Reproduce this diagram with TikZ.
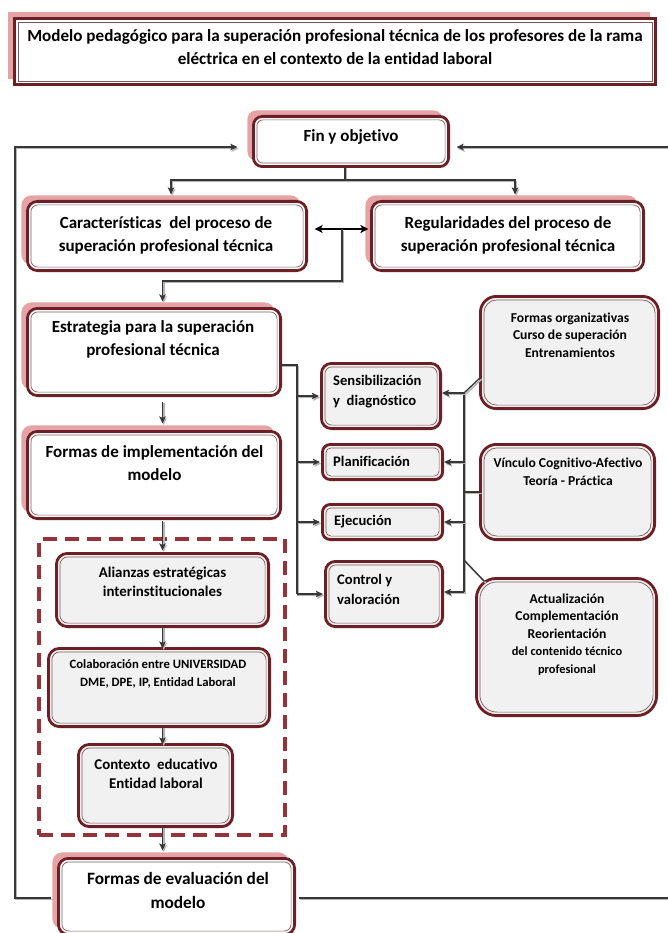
\documentclass[tikz,border=0pt]{standalone}
\usepackage{fontspec}
\setmainfont{Carlito}[Ligatures=CommonOff]
\usetikzlibrary{shadows,arrows.meta,calc}
\definecolor{dkred}{RGB}{108,32,38}
\definecolor{inred}{RGB}{125,88,90}
\definecolor{shpink}{RGB}{226,148,150}
\definecolor{gfill}{RGB}{241,241,241}
\definecolor{lncol}{RGB}{55,55,55}
\definecolor{lnshadow}{RGB}{180,180,180}
\definecolor{dashred}{RGB}{150,50,56}
\tikzset{
  x=1pt, y=-1pt,
  sz/.style 2 args={minimum width=#1pt-2.8pt, minimum height=#2pt-2.8pt},
  box/.style={draw=dkred, line width=2.8pt, inner sep=0pt, outer sep=0pt, rounded corners=#1},
  box/.default=10pt,
  wbox/.style={box=#1, fill=white, drop shadow={shadow xshift=-6pt, shadow yshift=6pt, fill=shpink, opacity=0.85}},
  wbox/.default=10pt,
  gbox/.style={box=#1, fill=gfill, drop shadow={shadow xshift=1.2pt, shadow yshift=-1.2pt, fill=black, opacity=0.25}},
  gbox/.default=10pt,
  inline/.style={draw=inred, line width=0.7pt},
  dashbox/.style={draw=dashred, line width=3.6pt, dash pattern=on 14pt off 8pt, inner sep=0pt},
  txt/.style={inner sep=0pt, align=center, text=black},
  tT/.style={txt, font=\fontsize{17.1}{23}\selectfont\bfseries},
  tB/.style={txt, font=\fontsize{17}{23}\selectfont\bfseries},
  tE/.style={txt, font=\fontsize{17.3}{24}\selectfont\bfseries},
  tM/.style={txt, align=left, anchor=west, font=\fontsize{14.6}{20}\selectfont\bfseries},
  tL/.style={txt, font=\fontsize{14.9}{19}\selectfont\bfseries},
  tC/.style={txt, font=\fontsize{12.7}{18}\selectfont\bfseries},
  tR/.style={txt, font=\fontsize{13.6}{17.5}\selectfont\bfseries},
  conn/.style={draw=lncol, line width=1.3pt, preaction={draw=lnshadow, line width=1.6pt, transform canvas={shift={(1.2pt,-1.6pt)}}}},
  arr/.style={conn, -{Stealth[length=7pt,width=6.5pt,inset=1.5pt]}},
  dbl/.style={draw=black, line width=2pt, {Stealth[length=8pt,width=8pt,inset=2pt]}-{Stealth[length=8pt,width=8pt,inset=2pt]}},
}
\newcommand\inl[2]{\draw[inline, rounded corners=#2] ([shift={(3.5pt,3.5pt)}]#1.south west) rectangle ([shift={(-3.5pt,-3.5pt)}]#1.north east);}
\begin{document}
\begin{tikzpicture}
\useasboundingbox[fill=white] (0,0) rectangle (667,933);

% ---- boxes ----
\node (title) [wbox=0pt, sz={644}{69}] at (335,51.5) {};
\node (fin)   [wbox=9pt, sz={198}{53}] at (351,141.5) {};
\node (car)   [wbox, sz={282}{72}] at (167,236) {};
\node (reg)   [wbox, sz={275}{72}] at (507.5,236) {};
\node (estr)  [wbox, sz={256}{90}] at (154,352) {};
\node (fimp)  [wbox, sz={256}{90}] at (154,475) {};
\node (grp)   [dashbox, minimum width=246pt, minimum height=296pt] at (162,687) {};
\node (ali)   [gbox=11pt, sz={215}{76}] at (162.5,590) {};
\node (col)   [gbox=11pt, sz={224}{81}] at (159,687.5) {};
\node (ctx)   [gbox=11pt, sz={157}{85}] at (155.5,785.5) {};
\node (fe)    [wbox, sz={239}{79}] at (176.5,896.5) {};
\node (sen)   [gbox, sz={122}{68}] at (381,396) {};
\node (pla)   [gbox=8pt, sz={123}{38}] at (382.5,462) {};
\node (eje)   [gbox=8pt, sz={123}{38}] at (382.5,522) {};
\node (con)   [gbox, sz={120}{68}] at (384,594) {};
\node (forg)  [gbox=16pt, sz={181}{115}] at (569.5,352.5) {};
\node (vin)   [gbox=16pt, sz={177}{98}] at (567.5,492) {};
\node (act)   [gbox=20pt, sz={183}{140}] at (566.5,647) {};

\inl{title}{0pt}
\foreach \n in {car,reg,estr,fimp,fe,sen,con} {\inl{\n}{7pt}}
\inl{fin}{6pt}
\foreach \n in {pla,eje} {\inl{\n}{5pt}}
\foreach \n in {ali,col,ctx} {\inl{\n}{8pt}}
\foreach \n in {forg,vin} {\inl{\n}{13pt}}
\inl{act}{17pt}

% ---- texts ----
\node (title-t) [tT] at (335,47.5) {Modelo pedagógico para la superación profesional técnica de los profesores de la rama\\eléctrica en el contexto de la entidad laboral};
\node (fin-t) [tB] at (351,137) {Fin y objetivo};
\node (car-t) [tB] at (166,235.5) {Características\ \ del proceso de\\superación profesional técnica};
\node (reg-t) [tB] at (508,235.5) {Regularidades del proceso de\\superación profesional técnica};
\node (estr-t) [tB] at (153,339.5) {Estrategia para la superación\\profesional técnica};
\node (fimp-t) [tB] at (154.5,463.5) {Formas de implementación del\\modelo};
\node (fe-t) [tE] at (178,890) {Formas de evaluación del\\modelo};
\node (sen-t) [tM] at (333,392) {Sensibilización\\y\ \ diagnóstico};
\node (pla-t) [tM] at (333,461) {Planificación};
\node (eje-t) [tM] at (334,522) {Ejecución};
\node (con-t) [tM] at (337,589.5) {Control y\\valoración};
\node (forg-t) [tR] at (570,335) {Formas organizativas\\Curso de superación\\Entrenamientos};
\node (vin-t) [tR] at (568,472) {Vínculo Cognitivo-Afectivo\\Teoría - Práctica};
\node (act-t) [tR] at (567,634.5) {Actualización\\Complementación\\Reorientación\\{\fontsize{12.4}{16.5}\selectfont del contenido técnico}\\{\fontsize{12.4}{16.5}\selectfont profesional}};
\node (ali-t) [tL] at (162.5,581.5) {Alianzas estratégicas\\interinstitucionales};
\node (col-t) [tC] at (158,674) {Colaboración entre UNIVERSIDAD\\DME, DPE, IP, Entidad Laboral};
\node (ctx-t) [tL] at (156,773.5) {Contexto\ \ educativo\\Entidad laboral};

% ---- connectors ----
\coordinate (jc) at (345,180);
\coordinate (jl) at (171,180);
\coordinate (jr) at (515,180);
\draw[conn] ([xshift=-6pt]fin.south) -- (jc);
\draw[arr, shorten >=7pt] (jc) -| (jl |- car.north);
\draw[arr, shorten >=7pt] (jc) -| (jr |- reg.north);

\coordinate (dm) at (342,229);
\coordinate (dk) at (342,281);
\draw[dbl] ([shift={(8pt,7pt)}]car.east) -- ([shift={(-3pt,7pt)}]reg.west);
\draw[arr, shorten >=7pt] (dm) -- (dk) -| (ali.north |- estr.north);

\draw[arr] ([yshift=-6pt]ali.north |- estr.south) -- ([yshift=8pt]ali.north |- fimp.north);
\draw[arr] ([yshift=-2pt]ali.north |- fimp.south) -- ([yshift=3pt]ali.north);
\draw[arr] (ali.south) -- (ali.south |- col.north);
\draw[arr] (ali.north |- col.south) -- (ali.north |- ctx.north);
\draw[arr, shorten >=8pt] (ali.north |- ctx.south) -- (ali.north |- fe.north);

\coordinate (lt) at (297,365);
\coordinate (lb) at (297,594);
\draw[conn] ([yshift=-13pt]estr.east) -- (lt) -- (lb);
\foreach \n in {sen,pla,eje,con} {\draw[arr, shorten >=2.5pt] (lt |- \n.west) -- (\n.west);}

\coordinate (rt) at (464,393);
\coordinate (rb) at (464,592);
\draw[conn] (rt) -- (rb);
\draw[conn] ([yshift=-25pt]forg.west) -- (rt);
\draw[conn] (vin.west) -- (vin.west -| rt);
\draw[conn] ([shift={(8pt,-3pt)}]act.north west) -- ([yshift=32pt]rb);
\draw[arr, shorten >=1.5pt] (rt) -- (rt -| sen.east);
\draw[arr, shorten >=1.5pt] (rt |- pla.east) -- (pla.east);
\draw[arr, shorten >=1.5pt] (rt |- eje.east) -- (eje.east);
\draw[arr, shorten >=1.5pt] (rb) -- (rb -| con.east);

\coordinate (fl1) at (15,898);
\coordinate (fl2) at (15,147);
\coordinate (fr1) at (675,898);
\coordinate (fr2) at (675,147);
\draw[arr] ([xshift=-7pt]fe.west |- fl1) -- (fl1) -- (fl2) -- ([xshift=-16pt]fin.west |- fl2);
\draw[arr] ([xshift=4pt]fe.east |- fr1) -- (fr1) -- (fr2) -- ([xshift=8pt]fin.east |- fr2);
\end{tikzpicture}
\end{document}
